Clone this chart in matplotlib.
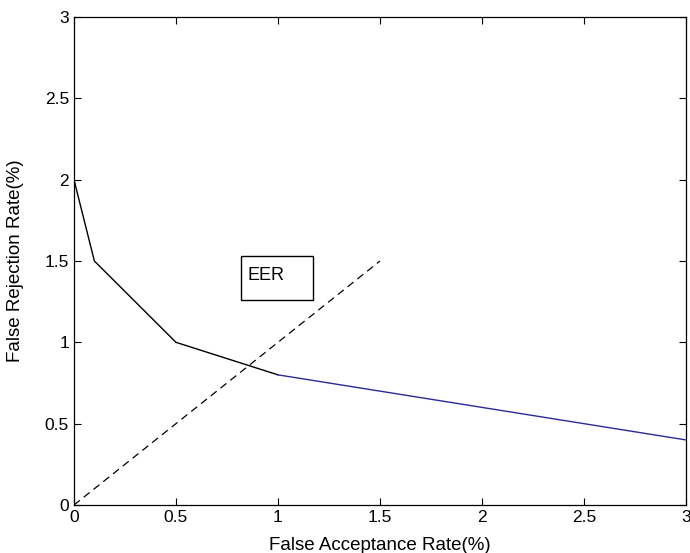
import numpy as np
import matplotlib
matplotlib.use('Agg')
import matplotlib.pyplot as plt
from matplotlib.patches import Rectangle

plt.rcParams['font.family'] = ['Liberation Sans', 'DejaVu Sans']

# 曲线数据
far_black = [0, 0.1, 0.5, 1.0]
frr_black = [2.0, 1.5, 1.0, 0.8]
far_blue = [1.0, 3.0]
frr_blue = [0.8, 0.4]

# EER 参考线
eer_x = [0, 1.5]
eer_y = [0, 1.5]

ticks = [0, 0.5, 1, 1.5, 2, 2.5, 3]
tick_labels = ['0', '0.5', '1', '1.5', '2', '2.5', '3']

fig = plt.figure(figsize=(6.9, 5.53), dpi=100)
ax = fig.add_axes([0.1072, 0.0868, 0.887, 0.8825])

ax.plot(far_black, frr_black, color='black', lw=1.0)
ax.plot(far_blue, frr_blue, color='#2a2a9a', lw=1.0)
ax.plot(eer_x, eer_y, color='black', lw=0.9, ls=(0, (6, 4)))

# EER 标注框
ax.add_patch(Rectangle((0.82, 1.26), 0.35, 0.27, fc='white', ec='black', lw=1.0, zorder=3))
ax.text(0.85, 1.41, 'EER', fontsize=13, va='center', ha='left', zorder=4)

ax.set_xlim(0, 3)
ax.set_ylim(0, 3)
ax.set_xticks(ticks)
ax.set_xticklabels(tick_labels)
ax.set_yticks(ticks)
ax.set_yticklabels(tick_labels)
ax.tick_params(direction='in', top=True, right=True, labelsize=12.5, length=5, width=0.8)
ax.set_xlabel('False Acceptance Rate(%)', fontsize=13.5, va='center')
ax.set_ylabel('False Rejection Rate(%)', fontsize=13.5, va='center')
ax.xaxis.set_label_coords(0.5, -0.082)
ax.yaxis.set_label_coords(-0.096, 0.5)
for s in ax.spines.values():
    s.set_linewidth(0.9)

fig.savefig('out.png', dpi=100)
